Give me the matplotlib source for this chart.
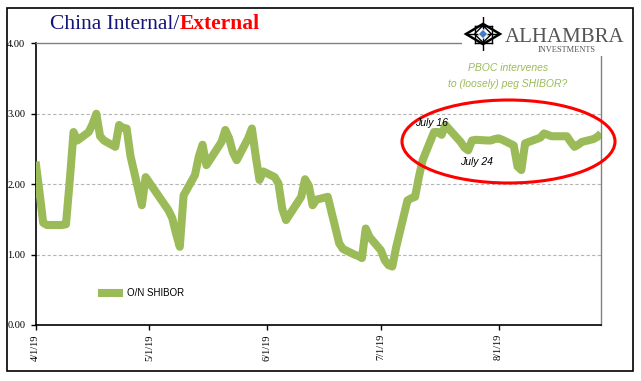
import matplotlib
matplotlib.use("Agg")
import matplotlib.pyplot as plt
import matplotlib.patches as mpatches
import pandas as pd

dates = ["2019-04-01", "2019-04-02", "2019-04-03", "2019-04-04", "2019-04-08", "2019-04-09",
         "2019-04-10", "2019-04-11", "2019-04-12", "2019-04-15", "2019-04-16", "2019-04-17",
         "2019-04-18", "2019-04-19", "2019-04-22", "2019-04-23", "2019-04-24", "2019-04-25",
         "2019-04-26", "2019-04-29", "2019-04-30", "2019-05-06", "2019-05-07", "2019-05-08",
         "2019-05-09", "2019-05-10", "2019-05-13", "2019-05-14", "2019-05-15", "2019-05-16",
         "2019-05-17", "2019-05-20", "2019-05-21", "2019-05-22", "2019-05-23", "2019-05-24",
         "2019-05-27", "2019-05-28", "2019-05-29", "2019-05-30", "2019-05-31", "2019-06-03",
         "2019-06-04", "2019-06-05", "2019-06-06", "2019-06-10", "2019-06-11", "2019-06-12",
         "2019-06-13", "2019-06-14", "2019-06-17", "2019-06-18", "2019-06-19", "2019-06-20",
         "2019-06-21", "2019-06-24", "2019-06-25", "2019-06-26", "2019-06-27", "2019-06-28",
         "2019-07-01", "2019-07-02", "2019-07-03", "2019-07-04", "2019-07-05", "2019-07-08",
         "2019-07-09", "2019-07-10", "2019-07-11", "2019-07-12", "2019-07-15", "2019-07-16",
         "2019-07-17", "2019-07-18", "2019-07-19", "2019-07-22", "2019-07-23", "2019-07-24",
         "2019-07-25", "2019-07-26", "2019-07-29", "2019-07-30", "2019-07-31", "2019-08-01",
         "2019-08-02", "2019-08-05", "2019-08-06", "2019-08-07", "2019-08-08", "2019-08-09",
         "2019-08-12", "2019-08-13", "2019-08-14", "2019-08-15", "2019-08-16", "2019-08-19",
         "2019-08-20", "2019-08-21", "2019-08-22", "2019-08-23", "2019-08-26", "2019-08-27",
         "2019-08-28"]
shibor_on = [2.32, 1.90, 1.45, 1.42, 1.42, 1.43,
             2.05, 2.74, 2.62, 2.74, 2.85, 3.00,
             2.68, 2.62, 2.53, 2.84, 2.80, 2.79,
             2.40, 1.70, 2.10, 1.63, 1.52, 1.30,
             1.11, 1.84, 2.13, 2.39, 2.56, 2.27,
             2.35, 2.60, 2.77, 2.65, 2.45, 2.34,
             2.65, 2.79, 2.40, 2.06, 2.18, 2.10,
             2.01, 1.65, 1.49, 1.82, 2.07, 1.98,
             1.70, 1.78, 1.82, 1.60, 1.38, 1.16,
             1.08, 1.00, 0.98, 0.95, 1.37, 1.25,
             1.06, 0.92, 0.85, 0.83, 1.10, 1.77,
             1.80, 1.82, 2.10, 2.34, 2.74, 2.74,
             2.70, 2.84, 2.78, 2.60, 2.52, 2.48,
             2.62, 2.63, 2.62, 2.62, 2.64, 2.65,
             2.63, 2.55, 2.25, 2.20, 2.58, 2.60,
             2.66, 2.72, 2.70, 2.68, 2.68, 2.68,
             2.60, 2.53, 2.56, 2.60, 2.64, 2.67,
             2.72]
y_ticks = [0.0, 1.0, 2.0, 3.0, 4.0]
x_tick_dates = ["2019-04-01", "2019-05-01", "2019-06-01", "2019-07-01", "2019-08-01"]
x_tick_labels = ["4/1/19", "5/1/19", "6/1/19", "7/1/19", "8/1/19"]
series_name = "O/N SHIBOR"

W, H = 641, 381
fig = plt.figure(figsize=(W / 100, H / 100), dpi=100)
fig.patch.set_facecolor("white")

L, R, T, B = 35.6, 601, 43.3, 325
ax = fig.add_axes([L / W, 1 - B / H, (R - L) / W, (B - T) / H])

green = "#9BBB59"
x = pd.to_datetime(dates)
ax.plot(x, shibor_on, color=green, lw=5.8, solid_joinstyle="round",
        solid_capstyle="butt", label=series_name, zorder=3)

ax.set_xlim(pd.Timestamp("2019-04-01"), pd.Timestamp("2019-08-28"))
ax.set_ylim(0, 4)
ax.set_yticks(y_ticks)
ax.set_yticklabels([f"{v:.2f}" for v in y_ticks], fontfamily="Liberation Serif", fontsize=7.5)
ax.set_xticks(pd.to_datetime(x_tick_dates))
ax.set_xticklabels(x_tick_labels, rotation=90, fontfamily="Liberation Serif", fontsize=7.5,
                   va="top")
ax.tick_params(axis="y", direction="out", length=3.5, width=1, pad=4)
ax.tick_params(axis="x", direction="out", length=3.5, width=1, pad=3)
for v in [1.0, 2.0, 3.0]:
    ax.axhline(v, color="#b5b5b5", lw=0.8, ls=(0, (3, 2)), zorder=1)
for s in ["left", "bottom"]:
    ax.spines[s].set_color("black")
    ax.spines[s].set_linewidth(1.2)
for s in ["top", "right"]:
    ax.spines[s].set_color("#808080")
    ax.spines[s].set_linewidth(1.0)

leg = ax.legend(loc="lower left", bbox_to_anchor=(0.095, 0.065), frameon=False,
                handlelength=2.6, handletextpad=0.4,
                prop={"family": "Liberation Sans", "size": 7})

# Outer frame
fig.add_artist(mpatches.Rectangle((7 / W, 1 - 371 / H), (633 - 7) / W, (371 - 8) / H,
                                  transform=fig.transFigure, fill=False,
                                  edgecolor="black", lw=1.2))

# Title
t1 = fig.text(50 / W, 1 - 29 / H, "China Internal/", color="#14147A",
              fontfamily="Liberation Serif", fontsize=15.5, va="baseline")
fig.canvas.draw()
bb = t1.get_window_extent()
fig.text(bb.x1 / W, 1 - 29 / H, "External", color="#FF0000",
         fontfamily="Liberation Serif", fontsize=15.5, fontweight="bold", va="baseline")

# Logo (white background box to cover spines)
fig.add_artist(mpatches.Rectangle((462 / W, 1 - 56 / H), (632 - 462) / W, 46 / H,
                                  transform=fig.transFigure, facecolor="white",
                                  edgecolor="none", zorder=5))
cx, cy, r = 483, 34, 17
dia = mpatches.RegularPolygon((cx / W, 1 - cy / H), 4, radius=r / W,
                              transform=fig.transFigure, facecolor="white",
                              edgecolor="black", lw=1.8, zorder=6)
fig.add_artist(dia)
lattice_ax = fig.add_axes([(cx - r) / W, 1 - (cy + r) / H, 2 * r / W, 2 * r / H], zorder=7)
lattice_ax.set_xlim(-1, 1)
lattice_ax.set_ylim(-1, 1)
lattice_ax.axis("off")
lattice_ax.patch.set_alpha(0)
for k in [-0.5, 0.0, 0.5]:
    lattice_ax.plot([-1 + abs(k), 1 - abs(k)], [k, k], color="black", lw=1.0)
    lattice_ax.plot([k, k], [-1 + abs(k), 1 - abs(k)], color="black", lw=1.0)
lattice_ax.add_patch(mpatches.RegularPolygon((0, 0), 4, radius=0.5, facecolor="none",
                                             edgecolor="black", lw=1.0, zorder=2))
lattice_ax.add_patch(mpatches.RegularPolygon((0, 0), 4, radius=0.3, facecolor="white",
                                             edgecolor="none", zorder=3))
lattice_ax.add_patch(mpatches.RegularPolygon((0, 0), 4, radius=0.24, facecolor="#3E7CC4",
                                             edgecolor="none", zorder=4))
fig.text(565 / W, 1 - 42 / H, "ALHAMBRA", color="#555555", fontfamily="Liberation Serif",
         fontsize=15, ha="center", va="baseline", zorder=8)
fig.text(567 / W, 1 - 51.5 / H, "INVESTMENTS", color="#555555", fontfamily="Liberation Serif",
         fontsize=6, ha="center", va="baseline", zorder=8)

# Annotations
fig.text(508 / W, 1 - 68 / H, "PBOC intervenes", color=green, fontfamily="Liberation Sans",
         style="italic", fontsize=7.5, ha="center", va="center")
fig.text(508 / W, 1 - 84 / H, "to (loosely) peg SHIBOR?", color=green,
         fontfamily="Liberation Sans", style="italic", fontsize=7.5, ha="center", va="center")
fig.text(431 / W, 1 - 123 / H, "July 16", color="black", fontfamily="Liberation Sans",
         style="italic", fontsize=7.5, ha="center", va="center", zorder=6)
fig.text(476 / W, 1 - 162 / H, "July 24", color="black", fontfamily="Liberation Sans",
         style="italic", fontsize=7.5, ha="center", va="center", zorder=6)

fig.add_artist(mpatches.Ellipse((508.5 / W, 1 - 141.5 / H), 213 / W, 83 / H,
                                transform=fig.transFigure, fill=False,
                                edgecolor="#FF0000", lw=2.2, zorder=6))

fig.savefig("out.png", dpi=100)
